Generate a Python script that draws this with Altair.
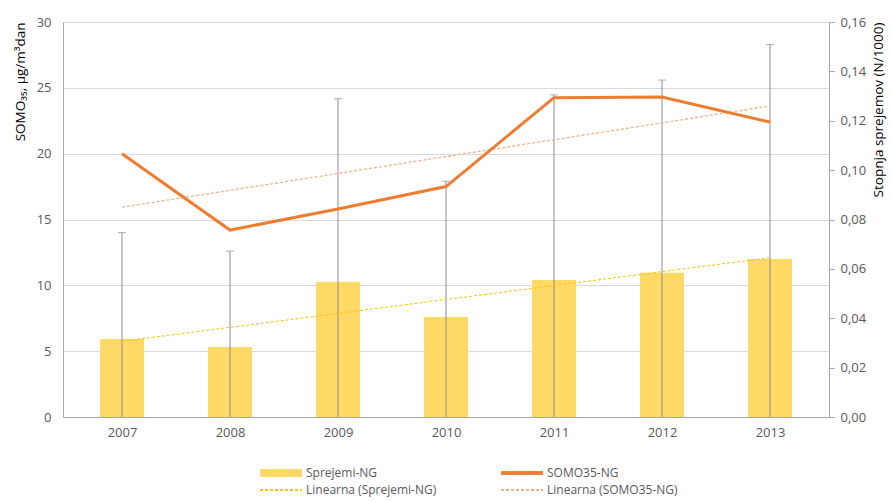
import altair as alt
import pandas as pd

years = [2007, 2008, 2009, 2010, 2011, 2012, 2013]
somo35 = [20.0, 14.2, 15.8, 17.5, 24.25, 24.3, 22.4]
sprejemi = [0.0316, 0.0284, 0.0548, 0.0405, 0.0555, 0.0584, 0.0640]
sprejemi_err_hi = [0.0747, 0.0672, 0.1289, 0.0955, 0.1305, 0.1365, 0.1509]
legend_labels = ["Sprejemi-NG", "SOMO35-NG", "Linearna (Sprejemi-NG)", "Linearna (SOMO35-NG)"]

df = pd.DataFrame({
    "year": years,
    "somo35": somo35,
    "sprejemi": sprejemi,
    "err_hi": sprejemi_err_hi,
})

FONT = "Open Sans"
TXT = "#595959"
AX = "#A6A6A6"

W, H = 766, 395

x_enc = alt.X(
    "year:Q",
    scale=alt.Scale(domain=[2006.5, 2013.5], nice=False, zero=False),
    axis=alt.Axis(values=years, format="d", grid=False, ticks=False, domainColor=AX,
                  labelColor=TXT, labelFont=FONT, labelFontSize=13, labelPadding=9, title=None),
)

right_scale = alt.Scale(domain=[0, 0.16], nice=False)
right_axis = alt.Axis(orient="right", values=[0, 0.02, 0.04, 0.06, 0.08, 0.10, 0.12, 0.14, 0.16],
                      labelExpr="replace(format(datum.value, '.2f'), '.', ',')",
                      grid=False, ticks=True, tickSize=5, tickColor=AX, domainColor=AX,
                      labelColor=TXT, labelFont=FONT, labelFontSize=13, labelPadding=6,
                      title="Stopnja sprejemov (N/1000)", titleFont=FONT, titleFontSize=13.5,
                      titleFontWeight="normal", titleColor="#000000", titlePadding=6,
                      titleAngle=270, titleAnchor="end", titleBaseline="top")

base = alt.Chart(df)

bars = base.mark_bar(color="#FFD966", size=44).encode(
    x=x_enc,
    y=alt.Y("sprejemi:Q", scale=right_scale, axis=right_axis),
)
err_rule = base.mark_rule(color="#8C8C8C", strokeWidth=1).encode(
    x="year:Q",
    y=alt.Y("err_hi:Q"),
    y2=alt.datum(0),
)
err_cap = base.mark_tick(color="#8C8C8C", thickness=1, size=8, orient="horizontal").encode(
    x="year:Q",
    y=alt.Y("err_hi:Q"),
)
spr_trend = base.transform_regression("year", "sprejemi", extent=[2007, 2013]).mark_line(
    color="#FFC000", strokeWidth=1, strokeDash=[3, 2]
).encode(x="year:Q", y=alt.Y("sprejemi:Q"))

right_layer = alt.layer(bars, err_rule, err_cap, spr_trend)

left_axis = alt.Axis(orient="left", values=[0, 5, 10, 15, 20, 25, 30], grid=True, gridColor="#D9D9D9",
                     ticks=False, domainColor=AX, labelColor=TXT, labelFont=FONT, labelFontSize=13,
                     labelPadding=12, title="SOMO₃₅, µg/m³dan", titleFont=FONT, titleFontSize=13.5,
                     titleFontWeight="normal", titleColor="#000000", titlePadding=9,
                     titleAnchor="end")

somo_line = base.mark_line(color="#ED7D31", strokeWidth=3).encode(
    x="year:Q",
    y=alt.Y("somo35:Q", scale=alt.Scale(domain=[0, 30], nice=False), axis=left_axis),
)
somo_trend = base.transform_regression("year", "somo35", extent=[2007, 2013]).mark_line(
    color="#F4B183", strokeWidth=1.3, strokeDash=[3, 2]
).encode(x="year:Q", y=alt.Y("somo35:Q"))

left_layer = alt.layer(somo_trend, somo_line)

# manual legend below the plot
leg = alt.Chart(pd.DataFrame({"label": legend_labels}))
ly1, ly2 = H + 56, H + 73
c1, c2 = 197, 438
legend_marks = [
    leg.mark_rect(color="#FFD966").encode(x=alt.value(c1), x2=alt.value(c1 + 42),
                                          y=alt.value(ly1 - 4), y2=alt.value(ly1 + 4)),
    leg.mark_rule(color="#ED7D31", strokeWidth=3).encode(x=alt.value(c2), x2=alt.value(c2 + 42),
                                                         y=alt.value(ly1)),
    leg.mark_rule(color="#FFC000", strokeWidth=1, strokeDash=[3, 2]).encode(
        x=alt.value(c1), x2=alt.value(c1 + 42), y=alt.value(ly2)),
    leg.mark_rule(color="#F4B183", strokeWidth=1.3, strokeDash=[3, 2]).encode(
        x=alt.value(c2), x2=alt.value(c2 + 42), y=alt.value(ly2)),
]
for i, (cx, cy) in enumerate([(c1, ly1), (c2, ly1), (c1, ly2), (c2, ly2)]):
    legend_marks.append(
        leg.transform_filter(alt.datum.label == legend_labels[i]).mark_text(
            align="left", baseline="middle", font=FONT, fontSize=12, color=TXT
        ).encode(x=alt.value(cx + 46), y=alt.value(cy), text="label:N")
    )

chart = alt.layer(right_layer, left_layer, *legend_marks).resolve_scale(
    y="independent"
).properties(
    width=W, height=H,
    autosize=alt.AutoSizeParams(type="none"),
    padding={"left": 63, "top": 22, "right": 63, "bottom": 85},
).configure_view(stroke=None).configure(background="white")

chart.save("out.html", embed_options={"renderer": "svg", "actions": False})
